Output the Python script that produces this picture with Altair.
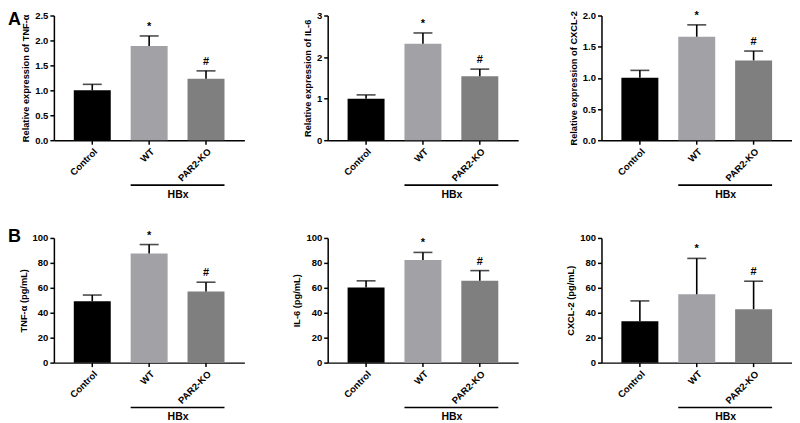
import altair as alt
import pandas as pd

groups = ["Control", "WT", "PAR2-KO"]
bar_colors = ["#000000", "#a2a1a6", "#7f7f7f"]
sig_marks = ["", "*", "#"]

# Panel A: relative mRNA expression (mean, mean + SD)
tnf_rel_mean = [1.00, 1.89, 1.23]
tnf_rel_upper = [1.12, 2.09, 1.39]
il6_rel_mean = [1.00, 2.32, 1.54]
il6_rel_upper = [1.09, 2.58, 1.71]
cxcl2_rel_mean = [1.00, 1.66, 1.28]
cxcl2_rel_upper = [1.12, 1.85, 1.43]

# Panel B: protein concentration, pg/mL (mean, mean + SD)
tnf_pg_mean = [49.2, 87.5, 57.1]
tnf_pg_upper = [54.2, 94.7, 64.5]
il6_pg_mean = [60.3, 82.3, 65.6]
il6_pg_upper = [65.6, 88.4, 73.8]
cxcl2_pg_mean = [33.1, 54.8, 42.9]
cxcl2_pg_upper = [49.5, 83.6, 65.3]

ticks_tnf_rel = [0.0, 0.5, 1.0, 1.5, 2.0, 2.5]
ticks_il6_rel = [0, 1, 2, 3]
ticks_cxcl2_rel = [0.0, 0.5, 1.0, 1.5, 2.0]
ticks_pg = [0, 20, 40, 60, 80, 100]

W = 191
H = 125
FONT = "Liberation Sans"


def panel(ytitle, means, uppers, ymax, ticks, fmt, letter=None, letter_dy=-5):
    df = pd.DataFrame({"group": groups, "mean": means, "upper": uppers, "sig": sig_marks})
    xscale = alt.Scale(domain=groups, paddingInner=0.35, paddingOuter=0.35)
    xaxis = alt.Axis(title=None, labelAngle=-45, labelAlign="right", labelBaseline="top",
                     labelPadding=2, labelFontSize=9.5)
    yscale = alt.Scale(domain=[0, ymax], nice=False)
    yaxis = alt.Axis(title=ytitle, values=ticks, format=fmt, titlePadding=4,
                     labelOverlap=False, labelFlush=False, tickCount=len(ticks))

    def X():
        return alt.X("group:N", sort=groups, scale=xscale, axis=xaxis)

    def Y(field):
        return alt.Y(field, scale=yscale, axis=yaxis, title=ytitle)

    base = alt.Chart(df)
    bars = base.mark_bar().encode(
        x=X(), y=Y("mean:Q"),
        color=alt.Color("group:N", scale=alt.Scale(domain=groups, range=bar_colors), legend=None),
    )
    err = base.mark_rule(color="black", strokeWidth=1.6).encode(
        x=X(), y=Y("mean:Q"), y2="upper:Q")
    cap = base.mark_tick(color="black", thickness=1.6, size=19).encode(
        x=X(), y=Y("upper:Q"))
    sig = base.mark_text(dy=-9, fontSize=11, fontWeight="bold", font=FONT, color="black").encode(
        x=X(), y=Y("upper:Q"), text="sig:N")
    one = alt.Data(values=[{"lab": "HBx"}])
    hbx_line = alt.Chart(one).mark_rule(color="black", strokeWidth=1.6).encode(
        x=alt.X(datum="WT", bandPosition=0),
        x2=alt.X2(datum="PAR2-KO", bandPosition=1),
        y=alt.value(H + 45),
    )
    hbx_text = alt.Chart(one).mark_text(fontSize=10.5, fontWeight="bold", font=FONT,
                                        color="black", dx=-9.5, baseline="middle").encode(
        x=alt.X(datum="PAR2-KO", bandPosition=0),
        y=alt.value(H + 55),
        text="lab:N",
    )
    layers = [bars, err, cap, sig, hbx_line, hbx_text]
    if letter:
        let = alt.Chart(alt.Data(values=[{"l": letter}])).mark_text(
            fontSize=18, fontWeight="bold", font=FONT, color="black",
            align="left", baseline="top").encode(
            x=alt.value(-46), y=alt.value(letter_dy), text="l:N")
        layers.append(let)
    return alt.layer(*layers).properties(width=W, height=H)


charts = [
    panel("Relative expression of TNF-α", tnf_rel_mean, tnf_rel_upper, 2.5, ticks_tnf_rel, ".1f", "A", -4),
    panel("Relative expression of IL-6", il6_rel_mean, il6_rel_upper, 3, ticks_il6_rel, "d"),
    panel("Relative expression of CXCL-2", cxcl2_rel_mean, cxcl2_rel_upper, 2.0, ticks_cxcl2_rel, ".1f"),
    panel("TNF-α (pg/mL)", tnf_pg_mean, tnf_pg_upper, 100, ticks_pg, "d", "B", -10),
    panel("IL-6 (pg/mL)", il6_pg_mean, il6_pg_upper, 100, ticks_pg, "d"),
    panel("CXCL-2 (pg/mL)", cxcl2_pg_mean, cxcl2_pg_upper, 100, ticks_pg, "d"),
]

chart = alt.concat(*charts, columns=3, spacing={"row": 98, "column": 83.5}, bounds="flush").properties(
    padding={"left": 0, "top": 1, "right": 0, "bottom": 0}
).configure_view(stroke=None).configure_axis(
    grid=False,
    domainColor="black", domainWidth=1.5,
    tickColor="black", tickWidth=1.5, tickSize=4,
    labelColor="black", labelFont=FONT, labelFontWeight="bold", labelFontSize=9.5,
    labelPadding=2,
    titleColor="black", titleFont=FONT, titleFontWeight="bold", titleFontSize=9.3,
).configure_axisY(labelPadding=2)

chart.save("out.html", embed_options={"renderer": "svg", "actions": False})
